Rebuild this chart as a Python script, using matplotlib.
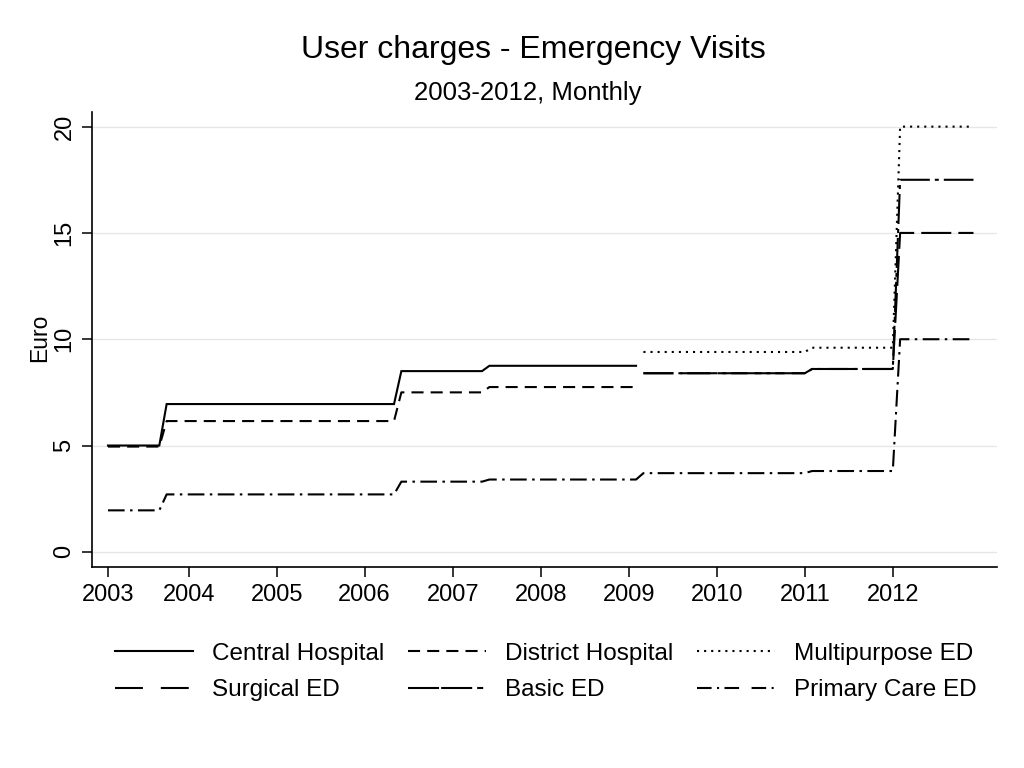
import matplotlib
matplotlib.use("Agg")
import matplotlib.pyplot as plt
from matplotlib.lines import Line2D

plt.rcParams['font.family'] = ['Liberation Sans', 'DejaVu Sans']

# Datos: cada serie es escalonada, valor vigente desde cada mes de inicio
central_inicio = ["2003-02", "2003-10", "2006-06", "2007-06"]
central_valor = [5.0, 6.95, 8.5, 8.75]
central_fin = "2009-02"

distrital_inicio = ["2003-02", "2003-10", "2006-06", "2007-06"]
distrital_valor = [4.95, 6.15, 7.5, 7.75]
distrital_fin = "2009-02"

polivalente_inicio = ["2009-03", "2011-02", "2012-02"]
polivalente_valor = [9.4, 9.6, 20.0]
polivalente_fin = "2012-12"

quirurgico_inicio = ["2009-03", "2011-02", "2012-02"]
quirurgico_valor = [8.4, 8.6, 15.0]
quirurgico_fin = "2012-12"

basico_inicio = ["2009-03", "2011-02", "2012-02"]
basico_valor = [8.4, 8.6, 17.5]
basico_fin = "2012-12"

primaria_inicio = ["2003-02", "2003-10", "2006-06", "2007-06", "2009-03", "2011-02", "2012-02"]
primaria_valor = [1.95, 2.7, 3.3, 3.4, 3.7, 3.8, 10.0]
primaria_fin = "2012-12"

etiquetas_anio = ["2003", "2004", "2005", "2006", "2007", "2008", "2009", "2010", "2011", "2012"]
ticks_y = [0, 5, 10, 15, 20]


def indice_mes(s):
    a, m = map(int, s.split("-"))
    return a * 12 + (m - 1)


def serie_mensual(inicios, valores, fin):
    # expandimos los escalones a una serie mensual
    xs, ys = [], []
    limites = [indice_mes(s) for s in inicios] + [indice_mes(fin) + 1]
    for k, v in enumerate(valores):
        for i in range(limites[k], limites[k + 1]):
            xs.append(i / 12.0)
            ys.append(v)
    return xs, ys


fig = plt.figure(figsize=(10.24, 7.68), dpi=100)
ax = fig.add_axes([0.0901, 0.2613, 0.8832, 0.5929])

lw = 1.5
estilos = {
    "Central Hospital": "-",
    "District Hospital": (0, (5.8, 3.4)),
    "Multipurpose ED": (0, (1.0, 2.4)),
    "Surgical ED": (0, (14.4, 3.4)),
    "Basic ED": (0, (14.4, 2.4, 1.9, 2.4)),
    "Primary Care ED": (0, (8.0, 2.6, 1.2, 2.6)),
}
# en la leyenda algunos patrones se ven distintos
estilos_leyenda = dict(estilos)
estilos_leyenda["Surgical ED"] = (0, (13.4, 8.6))
estilos_leyenda["Basic ED"] = (0, (14.9, 1.0, 14.9, 2.4, 2.9, 6.0))
estilos_leyenda["Primary Care ED"] = (0, (7.0, 2.6, 1.0, 2.6, 7.0, 6.0, 7.0, 2.6, 1.0, 6.0))

series = [
    ("Central Hospital", central_inicio, central_valor, central_fin),
    ("District Hospital", distrital_inicio, distrital_valor, distrital_fin),
    ("Multipurpose ED", polivalente_inicio, polivalente_valor, polivalente_fin),
    ("Surgical ED", quirurgico_inicio, quirurgico_valor, quirurgico_fin),
    ("Basic ED", basico_inicio, basico_valor, basico_fin),
    ("Primary Care ED", primaria_inicio, primaria_valor, primaria_fin),
]

for nombre, ini, val, fin in series:
    x, y = serie_mensual(ini, val, fin)
    ax.plot(x, y, color="black", linewidth=lw, linestyle=estilos[nombre],
            solid_joinstyle="miter", dash_capstyle="butt")

# ejes
ax.set_xlim(2002.905, 2013.18)
ax.set_ylim(-0.73, 20.69)
pos_x = [2003 + 1 / 12.0] + [float(a) for a in etiquetas_anio[1:]]
ax.set_xticks(pos_x)
ax.set_xticklabels(etiquetas_anio)
ax.set_yticks(ticks_y)
ax.set_yticklabels([str(t) for t in ticks_y], rotation=90, va="center")
ax.tick_params(axis="both", labelsize=17, length=7, width=1.1, direction="out", pad=5)
ax.tick_params(axis="y", pad=5)
ax.grid(axis="y", color="#e6e6e6", linewidth=1.0)
ax.set_axisbelow(True)
for lado in ["top", "right"]:
    ax.spines[lado].set_visible(False)
for lado in ["left", "bottom"]:
    ax.spines[lado].set_linewidth(1.2)
ax.set_ylabel("Euro", fontsize=16.5)
ax.yaxis.set_label_coords(-0.046, 0.505)

# titulos
fig.text(0.521, 0.935, "User charges - Emergency Visits", fontsize=23, ha="center", va="center")
fig.text(0.515, 0.879, "2003-2012, Monthly", fontsize=18.5, ha="center", va="center")

# leyenda (orden por columnas)
orden = ["Central Hospital", "Surgical ED", "District Hospital", "Basic ED",
         "Multipurpose ED", "Primary Care ED"]
manijas = [Line2D([0], [0], color="black", linewidth=lw, linestyle=estilos_leyenda[n],
                  dash_capstyle="butt") for n in orden]
fig.legend(manijas, orden, loc="center", bbox_to_anchor=(0.533, 0.125), ncol=3,
           frameon=False, fontsize=17.5, handlelength=3.2, handletextpad=0.78,
           columnspacing=1.0, labelspacing=0.59)

plt.savefig("out.png", dpi=100)
